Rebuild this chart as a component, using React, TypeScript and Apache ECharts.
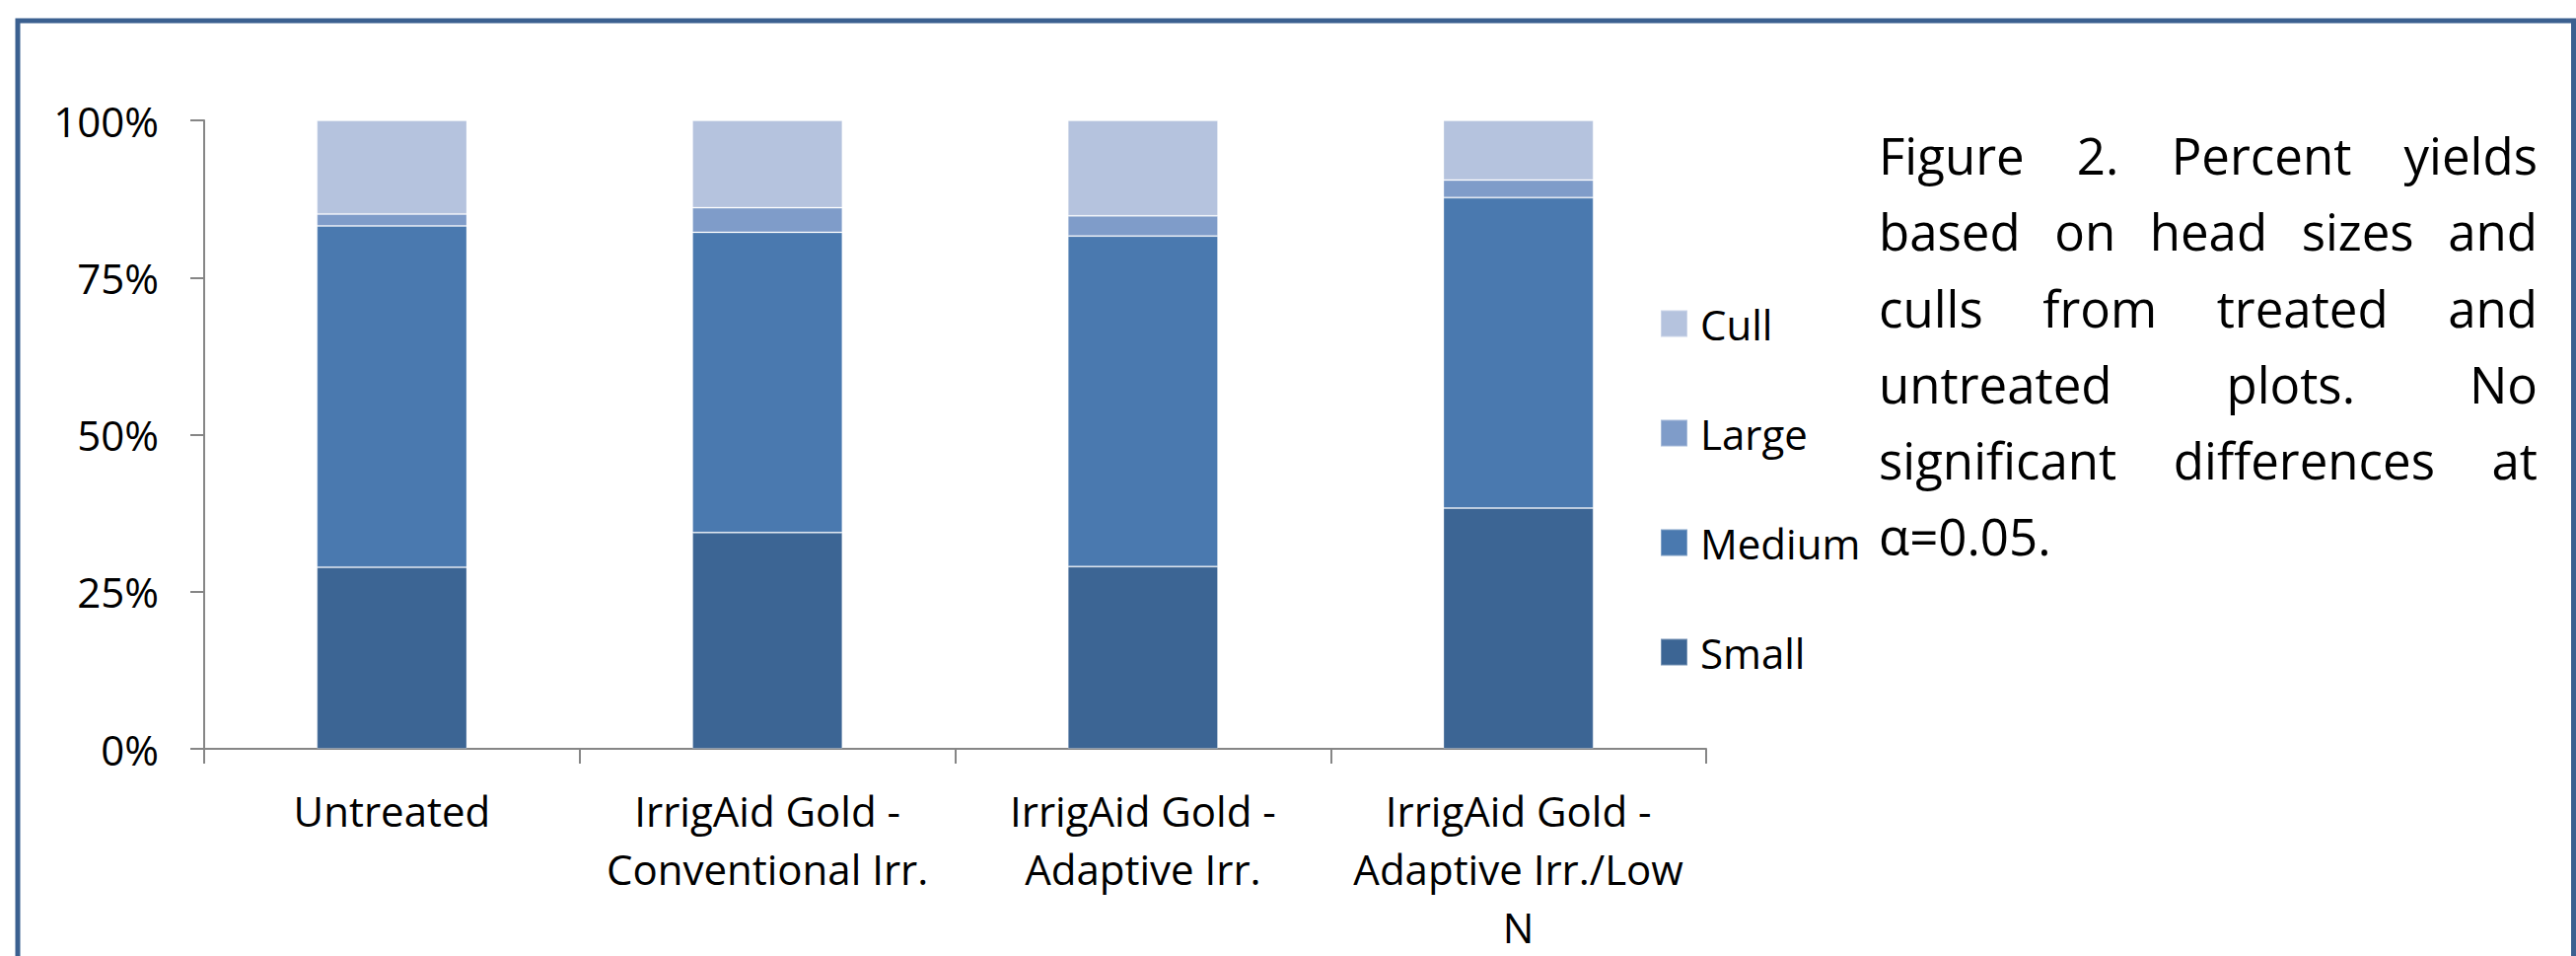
import React, { useEffect, useRef } from "react";
import * as echarts from "echarts";

const categories = [
  "Untreated",
  "IrrigAid Gold -\nConventional Irr.",
  "IrrigAid Gold -\nAdaptive Irr.",
  "IrrigAid Gold -\nAdaptive Irr./Low\nN",
];
const seriesNames = ["Small", "Medium", "Large", "Cull"];
const small = [28.9, 34.4, 29.0, 38.3];
const medium = [54.3, 47.8, 52.6, 49.4];
const large = [1.9, 3.9, 3.2, 2.8];
const cull = [14.9, 13.9, 15.2, 9.5];
const legendOrder = ["Cull", "Large", "Medium", "Small"];
const seriesColors = ["#3C6594", "#4A79AF", "#7F9CC9", "#B5C3DE"];
const captionLines = [
  "Figure 2. Percent yields",
  "based on head sizes and",
  "culls from treated and",
  "untreated plots. No",
  "significant differences at",
  "α=0.05.",
];

const FONT = "'Open Sans', 'Noto Sans', sans-serif";

export default function App() {
  const ref = useRef<HTMLDivElement>(null);

  useEffect(() => {
    if (!ref.current) return;
    document.body.style.margin = "0";
    const chart = echarts.init(ref.current, undefined, { renderer: "svg" });

    // caption, justified
    const CAP_FS = 51;
    const CAP_X0 = 1905;
    const CAP_X1 = 2573;
    const CAP_BASE0 = 177;
    const CAP_LH = 77.2;
    const canvas = document.createElement("canvas");
    const ctx = canvas.getContext("2d")!;
    ctx.font = `${CAP_FS}px 'Open Sans'`;
    const captionEls: any[] = [];
    captionLines.forEach((line, i) => {
      const words = line.split(" ");
      const cy = CAP_BASE0 + i * CAP_LH - 0.388 * CAP_FS;
      const isLast = i === captionLines.length - 1;
      if (isLast || words.length === 1) {
        captionEls.push({
          type: "text",
          x: CAP_X0,
          y: cy,
          style: {
            text: line,
            font: `${CAP_FS}px ${FONT}`,
            fill: "#000",
            textAlign: "left",
            verticalAlign: "middle",
            textVerticalAlign: "middle",
          },
        });
        return;
      }
      const ws = words.map((w) => ctx.measureText(w).width);
      const total = ws.reduce((a, b) => a + b, 0);
      const gap = (CAP_X1 - CAP_X0 - total) / (words.length - 1);
      let x = CAP_X0;
      words.forEach((w, j) => {
        captionEls.push({
          type: "text",
          x,
          y: cy,
          style: {
            text: w,
            font: `${CAP_FS}px ${FONT}`,
            fill: "#000",
            textAlign: "left",
            verticalAlign: "middle",
            textVerticalAlign: "middle",
          },
        });
        x += ws[j] + gap;
      });
    });

    const dataArr = [small, medium, large, cull];

    chart.setOption({
      animation: false,
      backgroundColor: "#ffffff",
      textStyle: { fontFamily: FONT },
      grid: { left: 207, right: 882, top: 122, bottom: 202, containLabel: false },
      legend: {
        orient: "vertical",
        left: 1683,
        top: 307,
        padding: 0,
        itemWidth: 27,
        itemHeight: 27,
        itemGap: 69,
        icon: "rect",
        data: legendOrder,
        selectedMode: false,
        textStyle: {
          fontSize: 42,
          color: "#000",
          fontFamily: FONT,
          lineHeight: 27,
          padding: [0, 0, 0, 8],
        },
      },
      xAxis: {
        type: "category",
        data: categories,
        axisLine: { show: true, lineStyle: { color: "#868686", width: 2 } },
        axisTick: { show: true, length: 15, lineStyle: { color: "#868686", width: 2 }, alignWithLabel: false },
        axisLabel: {
          interval: 0,
          fontSize: 42,
          lineHeight: 59,
          color: "#000",
          margin: 33,
          fontFamily: FONT,
        },
        splitLine: { show: false },
      },
      yAxis: {
        type: "value",
        min: 0,
        max: 100,
        interval: 25,
        axisLine: { show: true, lineStyle: { color: "#868686", width: 2 } },
        axisTick: { show: true, length: 14, lineStyle: { color: "#868686", width: 2 } },
        axisLabel: {
          formatter: "{value}%",
          fontSize: 42,
          color: "#000",
          margin: 46,
          fontFamily: FONT,
        },
        splitLine: { show: false },
      },
      series: seriesNames.map((name, i) => ({
        name,
        type: "bar",
        stack: "total",
        data: dataArr[i],
        barCategoryGap: "60%",
        itemStyle: {
          color: seriesColors[i],
          borderColor: "rgba(255,255,255,0.3)",
          borderWidth: 1,
        },
      })),
      graphic: [
        {
          type: "rect",
          shape: { x: 18, y: 21, width: 2591.5, height: 1100 },
          style: { fill: "none", stroke: "#3B6090", lineWidth: 5 },
          z: 100,
        },
        ...captionEls,
      ],
    });

    return () => {
      chart.dispose();
    };
  }, []);

  return (
    <div
      ref={ref}
      style={{ position: "absolute", left: 0, top: 0, width: 2612, height: 969 }}
    />
  );
}
